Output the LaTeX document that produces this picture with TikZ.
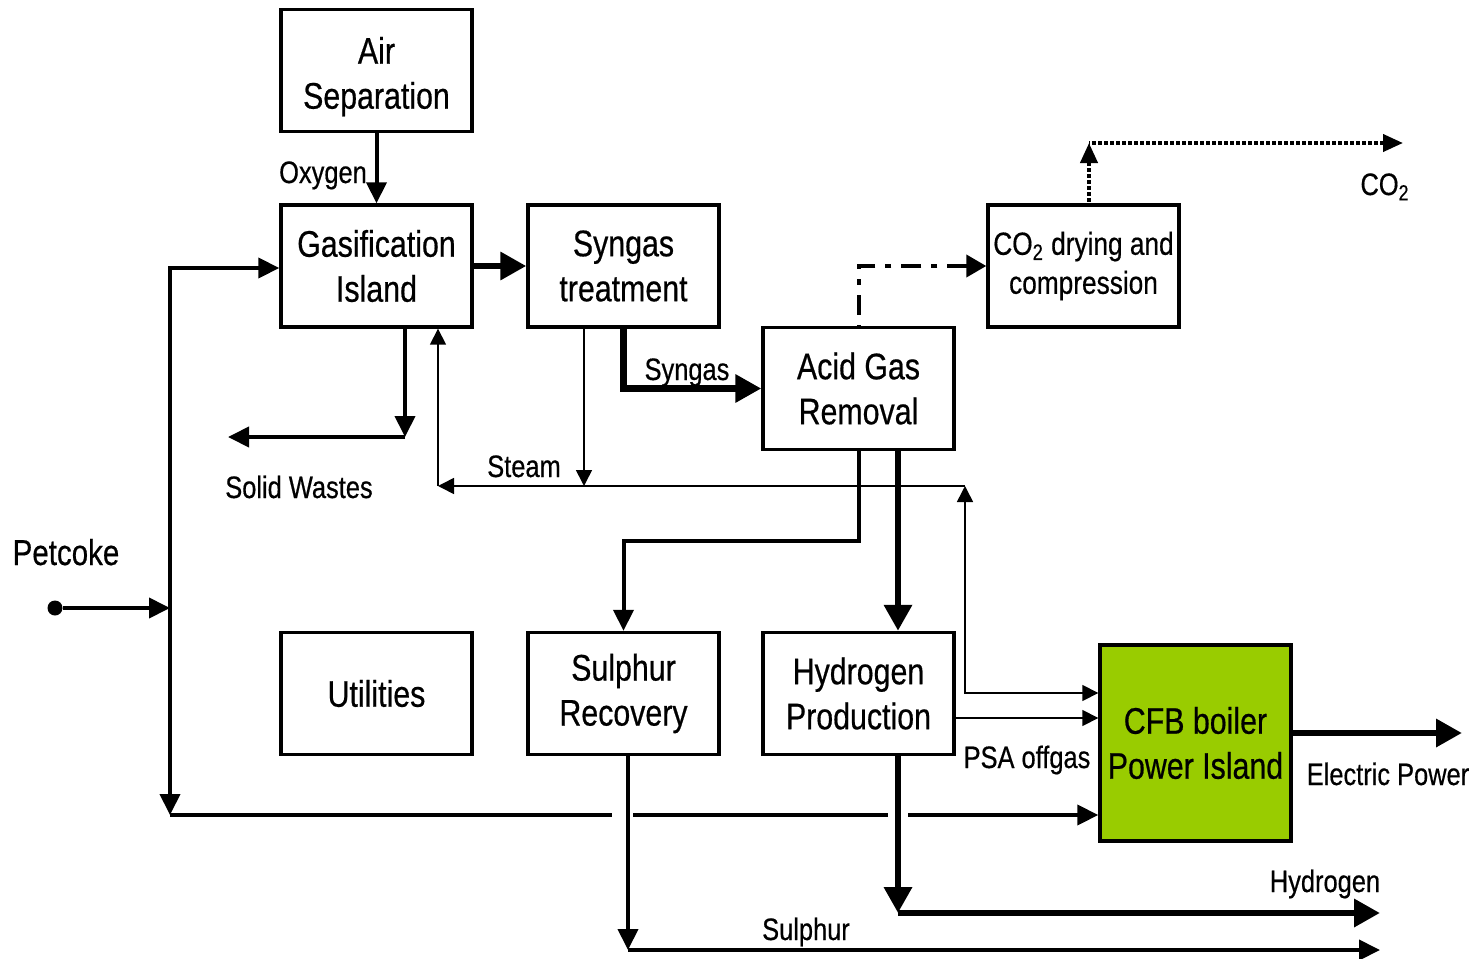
\documentclass[tikz,border=0pt]{standalone}
\usepackage{fontspec}
\setmainfont[FakeStretch=0.82,FakeBold=0.5]{Liberation Sans}
\usetikzlibrary{arrows.meta,calc}
\begin{document}
\begin{tikzpicture}[x=0.5pt,y=-0.5pt,
  box/.style={draw,line width=1.7pt,minimum width=95.5pt,minimum height=61pt,
    align=center,inner sep=0pt,font=\fontsize{18.5}{22.5}\selectfont},
  lbl/.style={inner sep=0pt,anchor=base,font=\fontsize{15.5}{18}\selectfont},
  heavy/.style={line width=3.2pt},
  med/.style={line width=2pt},
  fine/.style={line width=0.8pt},
  btip/.style={-{Triangle[length=13pt,width=13.5pt]}},
  mtip/.style={-{Triangle[length=10.5pt,width=10pt]}},
  stip/.style={-{Triangle[length=8pt,width=8pt]}},
  dashdotline/.style={line width=2pt,dash pattern=on 10pt off 5pt on 3pt off 5pt},
  dotline/.style={line width=2pt,dash pattern=on 2pt off 1pt}
]
\useasboundingbox (0,0) rectangle (1474,959);

% process blocks
\node[box] (air)    at (376.5,70.5)  {\\[-3pt]Air\\Separation};
\node[box] (gas)    at (376.5,266)   {Gasification\\Island};
\node[box] (syn)    at (623.5,266)   {Syngas\\treatment};
\node[box] (agr)    at (858.5,388.5) {Acid Gas\\Removal};
\node[box,font=\fontsize{16}{19.5}\selectfont] (co2) at (1083.5,266)
  {CO\textsubscript{2} drying and\\compression};
\node[box] (util)   at (376.5,693.5) {Utilities};
\node[box] (sulrec) at (623.5,693.5) {Sulphur\\Recovery};
\node[box] (h2)     at (858.5,693.5) {Hydrogen\\Production};
\node[box,fill={rgb,255:red,153;green,204;blue,0},minimum height=98pt] (cfb)
  at (1195.5,743) {CFB boiler\\Power Island};

% feed point
\node[circle,fill,inner sep=0pt,minimum size=7.5pt] (pc) at (55,608) {};

% routing points
\coordinate (pj)   at (170,608);
\coordinate (fT)   at (170,268);
\coordinate (fB)   at (170,815);
\coordinate (g1a)  at (612,815);
\coordinate (g1b)  at (633,815);
\coordinate (g2a)  at (888,815);
\coordinate (g2b)  at (908,815);
\coordinate (swT)  at (405,327);
\coordinate (swC)  at (405,437);
\coordinate (swE)  at (228,437);
\coordinate (stR)  at (965,486);
\coordinate (stL)  at (438,486);
\coordinate (stTop) at (584,327);
\coordinate (stD)  at (584,486);
\coordinate (cfbA) at (965,693);
\coordinate (psa)  at (954,718);
\coordinate (k1)   at (740,541);
\coordinate (cTop) at (1089,143);
\coordinate (cEnd) at (1403,143);
\coordinate (sD)   at (628,950);
\coordinate (sEnd) at (1380,950);
\coordinate (hD)   at (898,913);
\coordinate (hEnd) at (1380,913);
\coordinate (eEnd) at (1462,733);

% oxygen and syngas main line
\draw[med,mtip] (air.south) -- (gas.north);
\draw[heavy,btip] (gas.east) -- (syn.west);
\draw[heavy,btip] (syn.south) |- (agr.west);

% petcoke feed
\draw[med,mtip] (pc) -- (pj);
\draw[med,{Triangle[length=10.5pt,width=10pt]}-{Triangle[length=10.5pt,width=10pt]}]
  (fT -| gas.west) -- (fT) -- (fB);
\draw[med] (fB) -- (g1a);
\draw[med] (g1b) -- (g2a);
\draw[med,mtip] (g2b) -- (fB -| cfb.west);

% solid wastes
\draw[med,mtip] (swT) -- (swC);
\draw[med,mtip] (swC) -- (swE);

% steam
\draw[fine,stip] (stTop) -- (stD);
\draw[fine,stip] (stR) -- (stL);
\draw[fine,stip] (stL) -- (stL |- gas.south);
\draw[fine,{Triangle[length=8pt,width=8pt]}-{Triangle[length=8pt,width=8pt]}]
  (stR) -- (cfbA) -- (cfbA -| cfb.west);
\draw[fine,stip] (psa) -- (psa -| cfb.west);

% acid gas removal outlets
\draw[med,mtip] (agr.south) |- (k1) -| (sulrec.north);
\draw[heavy,btip] ($(agr.south)+(39.5,0)$) -- ($(h2.north)+(39.5,0)$);
\draw[dashdotline,{Triangle[length=10pt,width=11pt]}-] (co2.west) -| (agr.north);
\draw[dotline,{Triangle[length=10pt,width=8.5pt]}-] (cTop) -- ($(co2.north)+(5.5,0)$);
\draw[dotline,{Triangle[length=10pt,width=8.5pt]}-] (cEnd) -- (cTop);

% products
\draw[med,mtip] ($(sulrec.south)+(4.5,0)$) -- (sD);
\draw[med,mtip] (sD) -- (sEnd);
\draw[heavy,btip] ($(h2.south)+(39.5,0)$) -- (hD);
\draw[heavy,btip] (hD) -- (hEnd);
\draw[heavy,btip] ($(cfb.east)+(0,-10)$) -- (eEnd);

% stream labels
\node[lbl] at (323,183) {Oxygen};
\node[lbl] at (687,380) {Syngas};
\node[lbl] at (524,477) {Steam};
\node[lbl] at (299,498) {Solid Wastes};
\node[lbl,font=\fontsize{18}{21}\selectfont] at (66,565) {Petcoke};
\node[lbl] at (1385,195) {CO\textsubscript{2}};
\node[lbl] at (1027,768) {PSA offgas};
\node[lbl] at (1388,785) {Electric Power};
\node[lbl] at (1325,892) {Hydrogen};
\node[lbl] at (806,940) {Sulphur};
\end{tikzpicture}
\end{document}
